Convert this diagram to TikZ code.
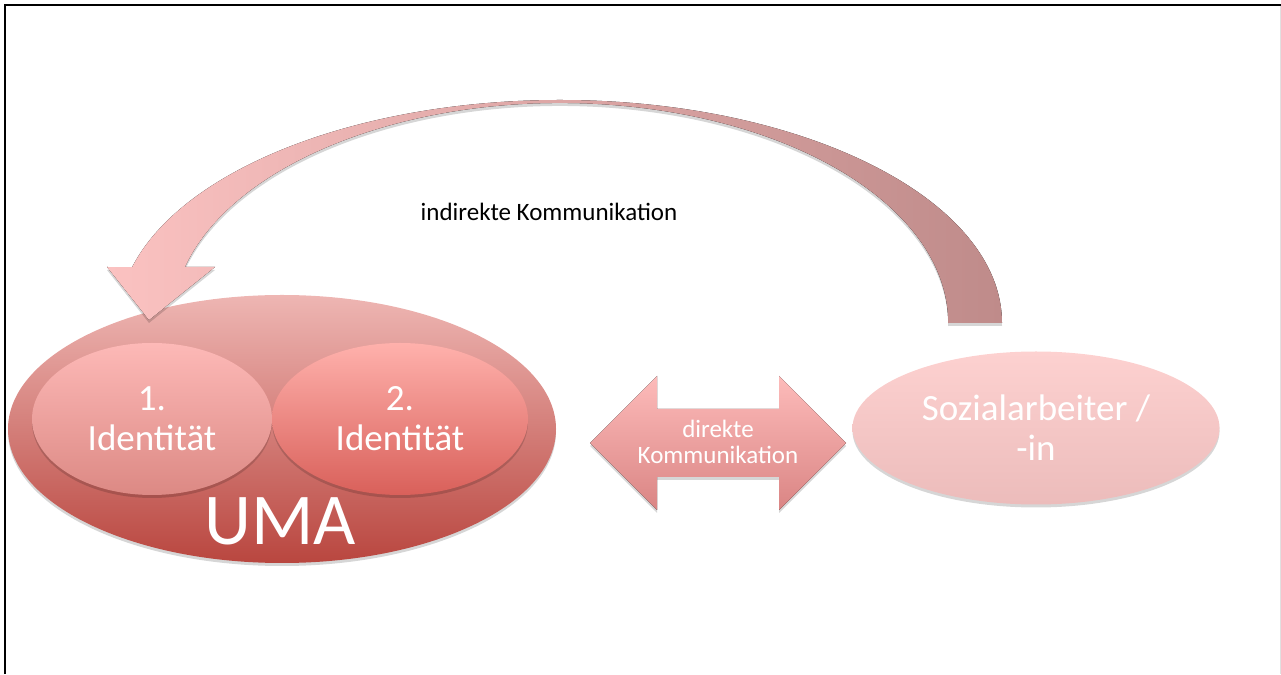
\documentclass[tikz,border=0pt]{standalone}
\usepackage{fontspec}
\setmainfont{Carlito}
\usetikzlibrary{shapes.geometric,shadows}
\definecolor{umaTop}{HTML}{EEB6B3}
\definecolor{umaBot}{HTML}{B9463F}
\definecolor{idaTop}{HTML}{FDB9B7}
\definecolor{idaBot}{HTML}{DC8984}
\definecolor{idbTop}{HTML}{FFB1AC}
\definecolor{idbBot}{HTML}{D9605A}
\definecolor{sozTop}{HTML}{FDD1D0}
\definecolor{sozBot}{HTML}{ECBCBB}
\definecolor{dirTop}{HTML}{FDBBBA}
\definecolor{dirBot}{HTML}{DA8584}
\definecolor{curL}{HTML}{FBC2C1}
\definecolor{curR}{HTML}{BF8B8A}
\begin{document}
\begin{tikzpicture}[x=1pt,y=1pt,
  softshadow/.style={drop shadow={opacity=0.16,shadow xshift=0pt,shadow yshift=-3pt,fill=black}},
  bubble/.style={ellipse, inner sep=0pt, text=white, align=center, softshadow},
  bigfont/.style={font=\fontsize{37pt}{40pt}\selectfont},
  midfont/.style={font=\fontsize{25pt}{26pt}\selectfont}]
\useasboundingbox (0,0) rectangle (1281,674);
% frame
\draw[line width=2pt] (5,0) -- (5,669) -- (1281,669);
\draw[black!12, line width=1pt] (1280,0) -- (1280,668);
% UMA
\node[bubble, minimum width=548pt, minimum height=268pt, top color=umaTop, bottom color=umaBot] (uma) at (282,245) {};
\node[bubble, bigfont, minimum width=240pt, minimum height=152pt, top color=idaTop, bottom color=idaBot] (id1) at (152,255) {1.\\Identität};
\node[bubble, bigfont, minimum width=256pt, minimum height=152pt, top color=idbTop, bottom color=idbBot] (id2) at (400,255) {2.\\Identität};
\node[text=white, font=\fontsize{73pt}{80pt}\selectfont, anchor=base, inner sep=0pt] (umatext) at (280,129) {UMA};
% Sozialarbeiter
\node[bubble, bigfont, minimum width=367pt, minimum height=153pt, top color=sozTop, bottom color=sozBot] (soz) at (1036,246) {Sozialarbeiter /\\-in};
% direct double arrow
\fill[top color=dirTop, bottom color=dirBot, softshadow]
  (590,231) -- (657,298) -- (657,265) -- (779,265) -- (779,298) -- (846,231)
  -- (779,164) -- (779,197) -- (657,197) -- (657,164) -- cycle;
\node[text=white, midfont, align=center, inner sep=0pt] (direkt) at (718,232) {direkte\\Kommunikation};
% curved indirect arrow
\coordinate (tailout) at (1002,351);
\coordinate (tailin) at (948,351);
\coordinate (headL) at (107,407);
\coordinate (headtip) at (149,354);
\coordinate (headR) at (215,407);
\fill[left color=curL, right color=curR, softshadow]
  (tailout) arc[start angle=0, end angle=165.5, x radius=442pt, y radius=223pt]
  -- (headL) -- (headtip) -- (headR) -- (185,407)
  arc[start angle=165.25, end angle=0, x radius=388pt, y radius=220pt]
  -- (tailin) -- cycle;
\node[midfont, anchor=base, inner sep=0pt] (indirekt) at (549,453) {indirekte Kommunikation};
\end{tikzpicture}
\end{document}
